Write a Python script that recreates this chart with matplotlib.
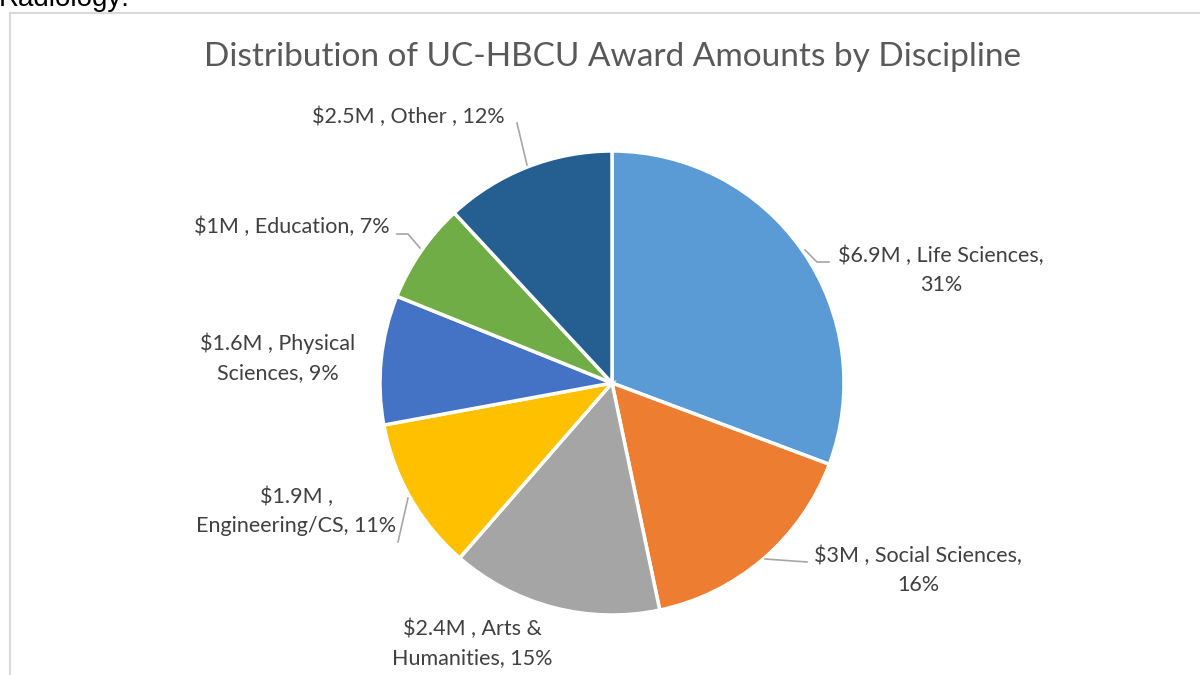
import matplotlib.pyplot as plt
from matplotlib.patches import Rectangle

# data (wedge shares in %, label text as printed)
disciplines = ['Life Sciences', 'Social Sciences', 'Arts & Humanities', 'Engineering/CS',
               'Physical Sciences', 'Education', 'Other']
shares = [30.7, 16.0, 14.7, 10.7, 9.0, 7.0, 11.9]
labels = ['$6.9M , Life Sciences,\n31%',
          '$3M , Social Sciences,\n16%',
          '$2.4M , Arts &\nHumanities, 15%',
          '$1.9M ,\nEngineering/CS, 11%',
          '$1.6M , Physical\nSciences, 9%',
          '$1M , Education, 7%',
          '$2.5M , Other , 12%']
colors = ['#5B9BD5', '#ED7D31', '#A5A5A5', '#FFC000', '#4472C4', '#70AD47', '#255E91']

W, H = 1200, 675

# label centres and leader lines in image pixels (layout only)
label_pos = [(941, 270), (918, 570), (472, 643), (296, 511), (278, 358), (292, 227), (408, 117)]
leaders = [[(805, 250), (817, 262), (829, 262)],
           [(765, 559), (807, 562)],
           None,
           [(398, 542), (408, 498)],
           None,
           [(397, 234), (408, 234), (420, 248)],
           [(517, 123), (527, 165)]]

plt.rcParams['font.family'] = ['Lato', 'DejaVu Sans']
fig = plt.figure(figsize=(12, 6.75), dpi=100)
ax = fig.add_axes([0, 0, 1, 1])

def Y(y):
    return H - y

# chart frame (runs off the right and bottom edges)
ax.add_patch(Rectangle((10, Y(13) - 700), 1300, 700, fill=False,
                       edgecolor='#D9D9D9', linewidth=1.5))

# leftover text from the document above the chart
ax.text(-1, Y(5.5), 'Radiology:', family='Liberation Sans', fontsize=20,
        color='black', ha='left', va='baseline')

ax.text(612, Y(57), 'Distribution of UC-HBCU Award Amounts by Discipline',
        fontsize=24, color='#595959', ha='center', va='center')

ax.pie(shares, colors=colors, startangle=90, counterclock=False,
       center=(612, Y(383)), radius=232, frame=True,
       wedgeprops=dict(edgecolor='white', linewidth=2.5))
ax.set_xlim(0, W)
ax.set_ylim(0, H)
ax.axis('off')

for lab, (x, y), ld in zip(labels, label_pos, leaders):
    ax.text(x, Y(y), lab, fontsize=15.5, color='#404040', ha='center', va='center',
            linespacing=1.55)
    if ld:
        ax.plot([p[0] for p in ld], [Y(p[1]) for p in ld], color='#A6A6A6', lw=1.2)

fig.savefig('out.png', dpi=100)
